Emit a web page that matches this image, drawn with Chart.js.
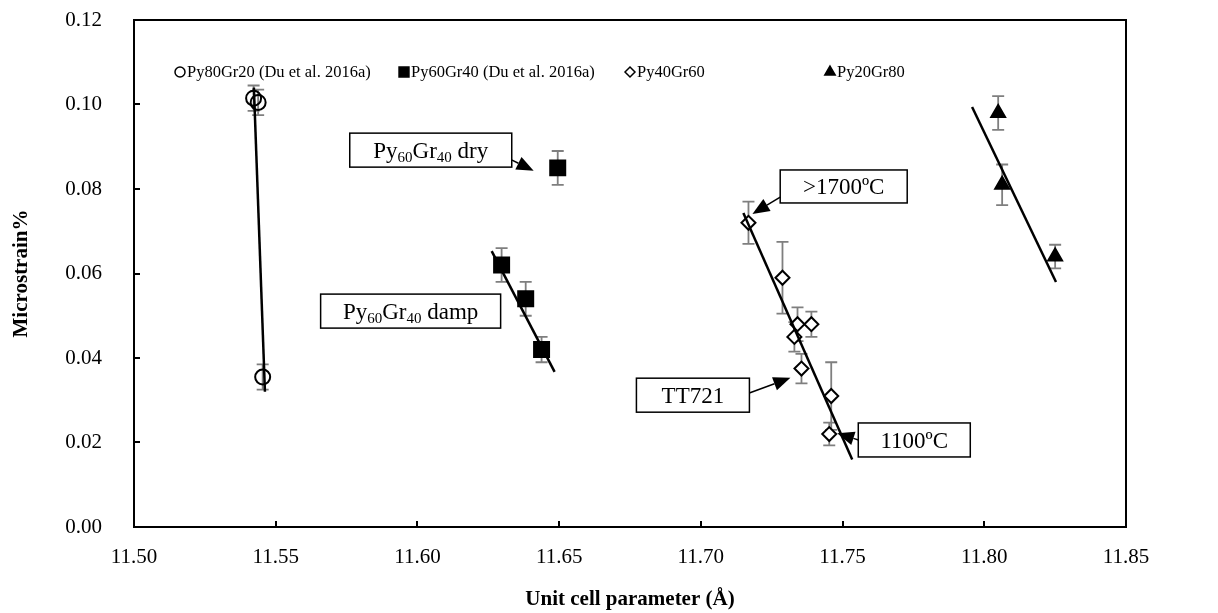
<!DOCTYPE html>
<html>
<head>
<meta charset="utf-8">
<script src="https://cdn.jsdelivr.net/npm/chart.js@4.4.0/dist/chart.umd.min.js"></script>
<style>
  html, body { margin: 0; padding: 0; background: #fff; }
  #wrap { width: 1218px; height: 613px; }
</style>
</head>
<body>
<div id="wrap"><canvas id="chart" width="1218" height="613"></canvas></div>
<script>
// measured points: unit cell parameter (A) vs microstrain %
const py80X = [11.5422, 11.5438, 11.5454];
const py80Y = [0.1015, 0.1005, 0.0355];
const py80Err = [0.003, 0.003, 0.003];

const py60X = [11.6297, 11.6382, 11.6438, 11.6495];
const py60Y = [0.062, 0.054, 0.042, 0.085];
const py60Err = [0.004, 0.004, 0.003, 0.004];

const py40X = [11.7168, 11.7288, 11.7341, 11.7390, 11.7330, 11.7355, 11.7460, 11.7453];
const py40Y = [0.072, 0.059, 0.048, 0.048, 0.045, 0.0375, 0.031, 0.022];
const py40Err = [0.005, 0.0085, 0.004, 0.003, 0.0035, 0.0035, 0.008, 0.0027];

const py20X = [11.8049, 11.8063, 11.8250];
const py20Y = [0.098, 0.081, 0.064];
const py20Err = [0.004, 0.0048, 0.0028];

// linear trend lines, end points
const fit80X = [11.5423, 11.5462];
const fit80Y = [0.104, 0.032];
const fit60X = [11.6262, 11.6484];
const fit60Y = [0.0653, 0.0367];
const fit40X = [11.7150, 11.7534];
const fit40Y = [0.0743, 0.0160];
const fit20X = [11.7957, 11.8253];
const fit20Y = [0.0994, 0.0580];

const xTicks = [11.50, 11.55, 11.60, 11.65, 11.70, 11.75, 11.80, 11.85];
const yTicks = [0.00, 0.02, 0.04, 0.06, 0.08, 0.10, 0.12];

const seriesNames = ['Py80Gr20 (Du et al. 2016a)', 'Py60Gr40 (Du et al. 2016a)', 'Py40Gr60', 'Py20Gr80'];

// callout labels (text parts: [string, isSubscript]), anchored in data units
const notes = [
  { parts: [['Py', 0], ['60', 1], ['Gr', 0], ['40', 1], [' dry', 0]], x: 11.6047, y: 0.0892, w: 162, h: 34,
    arrow: [11.6332, 0.0869, 11.6410, 0.0843] },
  { parts: [['Py', 0], ['60', 1], ['Gr', 0], ['40', 1], [' damp', 0]], x: 11.5976, y: 0.0511, w: 180, h: 34 },
  { parts: [['>1700ºC', 0]], x: 11.7504, y: 0.0806, w: 127, h: 33,
    arrow: [11.7280, 0.0781, 11.7182, 0.0741] },
  { parts: [['TT721', 0]], x: 11.6972, y: 0.0312, w: 113, h: 34,
    arrow: [11.7171, 0.0317, 11.7316, 0.0353] },
  { parts: [['1100ºC', 0]], x: 11.7753, y: 0.0206, w: 112, h: 34,
    arrow: [11.7556, 0.0206, 11.7481, 0.0222] }
];

const toPts = (xs, ys) => xs.map((x, i) => ({ x: x, y: ys[i] }));
const serif = "'Liberation Serif', 'Times New Roman', serif";

const markerStyles = [
  { pointStyle: 'circle', radius: 7.5, fill: 'rgba(0,0,0,0)', legendR: 5 },
  { pointStyle: 'rect', radius: 10.6, fill: '#000', legendR: 7 },
  { pointStyle: 'rectRot', radius: 7, fill: '#fff', legendR: 5 },
  { pointStyle: 'triangle', radius: 8, fill: '#000', legendR: 6 }
];

function scatterSet(i, xs, ys, errs) {
  const m = markerStyles[i];
  return {
    label: seriesNames[i],
    data: toPts(xs, ys),
    errs: errs,
    showLine: false,
    pointStyle: m.pointStyle,
    pointRadius: m.radius,
    pointBackgroundColor: m.fill,
    pointBorderColor: '#000',
    pointBorderWidth: 2,
    order: 1
  };
}

function fitSet(xs, ys) {
  return {
    label: 'fit',
    data: toPts(xs, ys),
    showLine: true,
    borderColor: '#000',
    borderWidth: 2.5,
    pointRadius: 0,
    order: 0
  };
}

const decorPlugin = {
  id: 'decor',
  beforeDatasetsDraw(chart) {
    const ctx = chart.ctx, xs = chart.scales.x, ys = chart.scales.y;
    ctx.save();
    ctx.strokeStyle = '#7f7f7f';
    ctx.lineWidth = 1.8;
    chart.data.datasets.forEach(ds => {
      if (!ds.errs) return;
      ds.data.forEach((p, i) => {
        const px = xs.getPixelForValue(p.x);
        const top = ys.getPixelForValue(p.y + ds.errs[i]);
        const bot = ys.getPixelForValue(p.y - ds.errs[i]);
        ctx.beginPath();
        ctx.moveTo(px, top); ctx.lineTo(px, bot);
        ctx.moveTo(px - 6, top); ctx.lineTo(px + 6, top);
        ctx.moveTo(px - 6, bot); ctx.lineTo(px + 6, bot);
        ctx.stroke();
      });
    });
    ctx.restore();
  },
  afterDraw(chart) {
    const ctx = chart.ctx, xs = chart.scales.x, ys = chart.scales.y;
    const a = chart.chartArea;
    ctx.save();
    // plot frame and inside ticks
    ctx.strokeStyle = '#000';
    ctx.lineWidth = 2;
    ctx.strokeRect(a.left, a.top, a.right - a.left, a.bottom - a.top);
    ctx.beginPath();
    xTicks.forEach(v => {
      const px = Math.round(xs.getPixelForValue(v));
      ctx.moveTo(px, a.bottom); ctx.lineTo(px, a.bottom - 6);
    });
    yTicks.forEach(v => {
      const py = Math.round(ys.getPixelForValue(v));
      ctx.moveTo(a.left, py); ctx.lineTo(a.left + 6, py);
    });
    ctx.stroke();

    // legend inside the plot
    const legendX = [180, 404, 630, 830];
    const legendY = 72;
    ctx.font = '16.5px ' + serif;
    ctx.textBaseline = 'middle';
    ctx.textAlign = 'left';
    seriesNames.forEach((name, i) => {
      const m = markerStyles[i];
      ctx.fillStyle = m.fill;
      ctx.strokeStyle = '#000';
      ctx.lineWidth = 1.5;
      Chart.helpers.drawPoint(ctx, { pointStyle: m.pointStyle, radius: m.legendR, rotation: 0, borderWidth: 1.5 }, legendX[i], legendY);
      ctx.fillStyle = '#000';
      ctx.fillText(name, legendX[i] + 7, legendY + 1);
    });

    // callouts
    notes.forEach(n => {
      const cx = xs.getPixelForValue(n.x), cy = ys.getPixelForValue(n.y);
      ctx.fillStyle = '#fff';
      ctx.fillRect(cx - n.w / 2, cy - n.h / 2, n.w, n.h);
      ctx.strokeStyle = '#000';
      ctx.lineWidth = 1.5;
      ctx.strokeRect(cx - n.w / 2, cy - n.h / 2, n.w, n.h);
      const big = '23px ' + serif, small = '15px ' + serif;
      let total = 0;
      n.parts.forEach(p => { ctx.font = p[1] ? small : big; total += ctx.measureText(p[0]).width; });
      let tx = cx - total / 2;
      ctx.fillStyle = '#000';
      ctx.textBaseline = 'alphabetic';
      n.parts.forEach(p => {
        ctx.font = p[1] ? small : big;
        ctx.fillText(p[0], tx, cy + 8 + (p[1] ? 4 : 0));
        tx += ctx.measureText(p[0]).width;
      });
      if (n.arrow) {
        const x1 = xs.getPixelForValue(n.arrow[0]), y1 = ys.getPixelForValue(n.arrow[1]);
        const x2 = xs.getPixelForValue(n.arrow[2]), y2 = ys.getPixelForValue(n.arrow[3]);
        const ang = Math.atan2(y2 - y1, x2 - x1);
        const hl = 17, hw = 7;
        const bx = x2 - hl * Math.cos(ang), by = y2 - hl * Math.sin(ang);
        ctx.beginPath();
        ctx.moveTo(x1, y1); ctx.lineTo(bx, by);
        ctx.stroke();
        ctx.beginPath();
        ctx.moveTo(x2, y2);
        ctx.lineTo(bx + hw * Math.sin(ang), by - hw * Math.cos(ang));
        ctx.lineTo(bx - hw * Math.sin(ang), by + hw * Math.cos(ang));
        ctx.closePath();
        ctx.fill();
      }
    });
    ctx.restore();
  }
};

new Chart(document.getElementById('chart'), {
  type: 'scatter',
  data: {
    datasets: [
      fitSet(fit80X, fit80Y),
      fitSet(fit60X, fit60Y),
      fitSet(fit40X, fit40Y),
      fitSet(fit20X, fit20Y),
      scatterSet(0, py80X, py80Y, py80Err),
      scatterSet(1, py60X, py60Y, py60Err),
      scatterSet(2, py40X, py40Y, py40Err),
      scatterSet(3, py20X, py20Y, py20Err)
    ]
  },
  options: {
    responsive: false,
    devicePixelRatio: 1,
    animation: false,
    events: [],
    layout: { padding: { left: 0, right: 92, top: 20, bottom: 0 } },
    plugins: {
      legend: { display: false },
      tooltip: { enabled: false }
    },
    scales: {
      x: {
        type: 'linear',
        min: 11.5,
        max: 11.85,
        afterBuildTicks: s => { s.ticks = xTicks.map(v => ({ value: v })); },
        afterFit: s => { s.height = 86; },
        grid: { display: false },
        border: { display: false },
        ticks: {
          padding: 10,
          color: '#000',
          font: { family: serif, size: 21 },
          maxRotation: 0,
          autoSkip: false,
          callback: v => Number(v).toFixed(2)
        },
        title: {
          display: true,
          text: 'Unit cell parameter (Å)',
          color: '#000',
          font: { family: serif, size: 21, weight: 'bold' },
          padding: { top: 0, bottom: 1 }
        }
      },
      y: {
        type: 'linear',
        min: 0,
        max: 0.12,
        afterBuildTicks: s => { s.ticks = yTicks.map(v => ({ value: v })); },
        afterFit: s => { s.width = 134; s.paddingTop = 0; s.paddingBottom = 0; },
        grid: { display: false },
        border: { display: false },
        ticks: {
          padding: 24,
          color: '#000',
          font: { family: serif, size: 21 },
          callback: v => Number(v).toFixed(2)
        },
        title: {
          display: true,
          text: 'Microstrain%',
          color: '#000',
          font: { family: serif, size: 21, weight: 'bold' },
          padding: { top: 9, bottom: 0 }
        }
      }
    }
  },
  plugins: [decorPlugin]
});
</script>
</body>
</html>
